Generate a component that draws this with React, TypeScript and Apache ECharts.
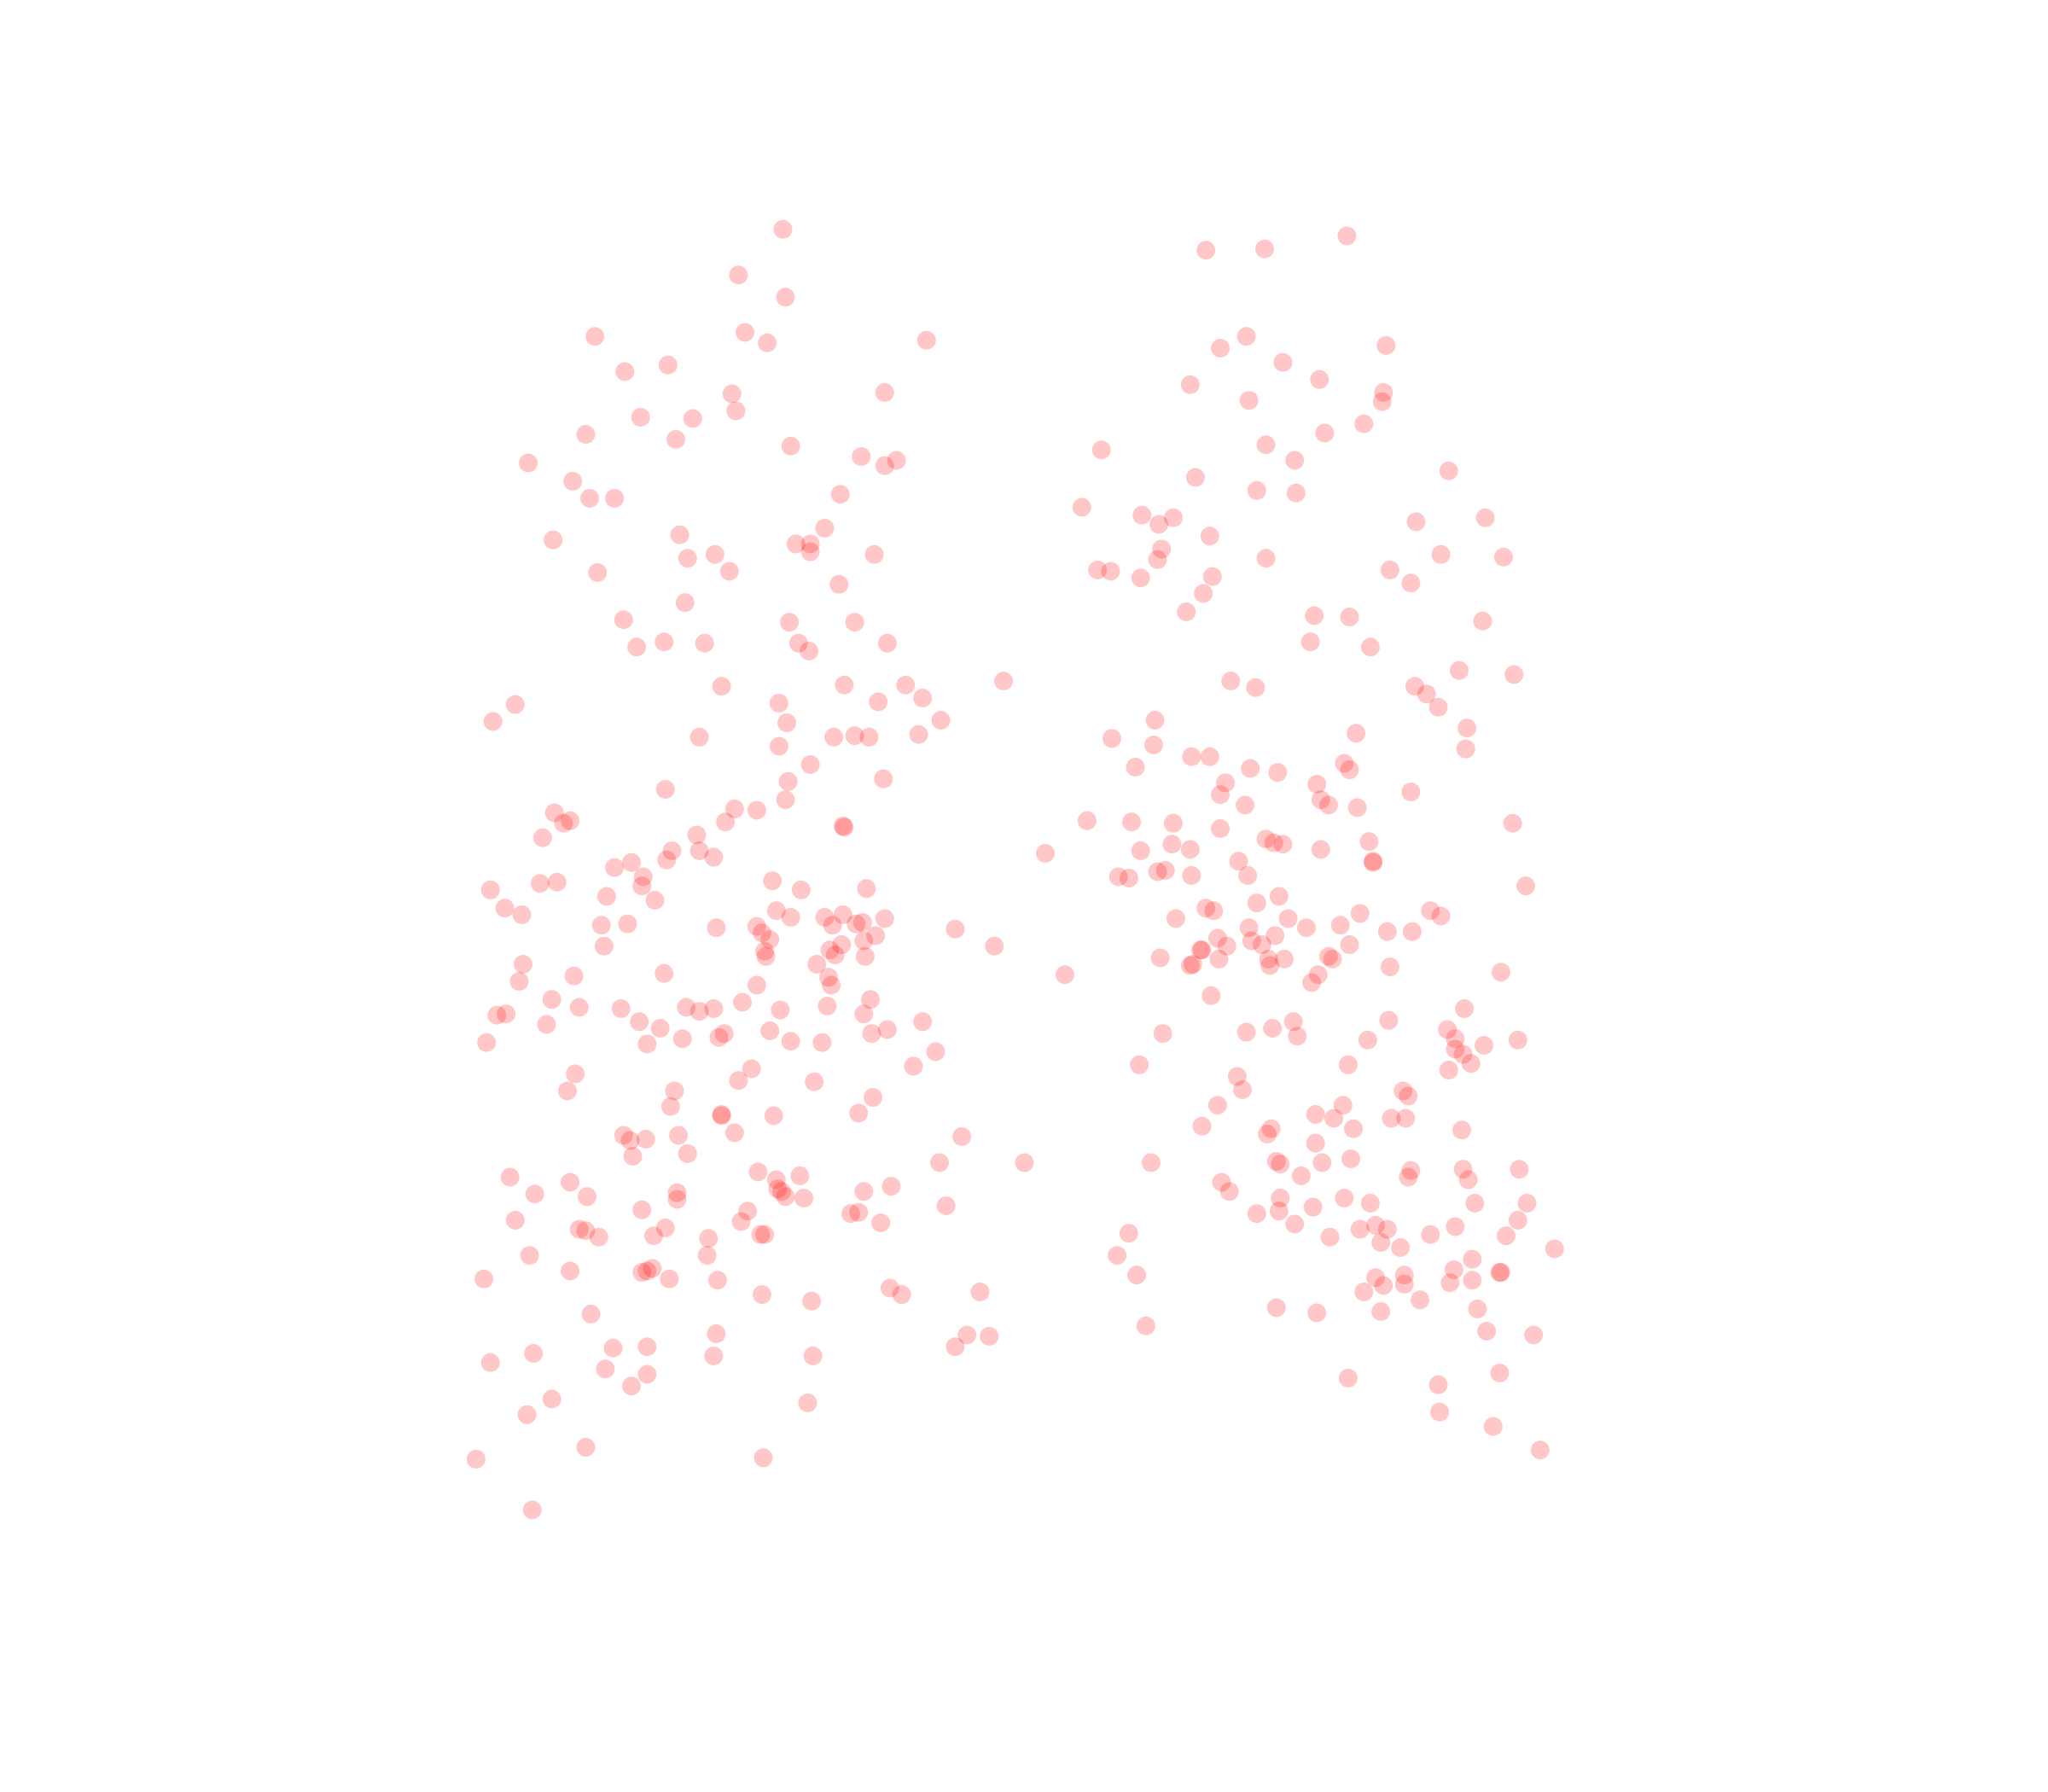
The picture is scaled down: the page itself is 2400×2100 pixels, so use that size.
import React, { useEffect, useRef } from "react";
import * as echarts from "echarts";

const AXIS_WIDTH = 1568;
const AXIS_HEIGHT = 1372;

const leftPoints: number[][] = [
[599,175],[565,210],[601,227],[455,257],[570,254],[587,262],[709,260],[478,284],[511,279],[560,301],[563,314],[677,300],[490,319],[530,320],[517,336],[448,332],[605,341],[404,354],[438,368],[451,381],[470,381],[659,349],[686,352],[677,356],[643,378],[631,404],[423,413],[520,409],[526,427],[547,424],[558,437],[609,416],[620,416],[620,422],[669,424],[457,438],[642,447],[524,461],[477,474],[604,476],[654,476],[487,495],[508,491],[539,492],[611,492],[619,498],[679,492],
[552,525],[646,524],[693,524],[706,534],[768,521],[596,538],[672,537],[394,539],[377,552],[602,553],[720,551],[535,564],[638,564],[654,563],[665,564],[703,562],[596,571],[620,585],[603,598],[676,596],[509,604],[601,612],[562,619],[579,620],[424,622],[431,630],[436,628],[555,629],[415,641],[533,639],[645,632],[646,633],[535,651],[514,651],[546,656],[510,658],[470,664],[483,660],[492,671],[413,676],[426,675],[491,678],[375,681],[464,686],[501,689],[591,674],[613,681],[663,680],[386,695],[399,700],[594,697],[605,702],[631,702],[645,700],[677,703],[460,708],[480,707],[548,710],[579,709],[583,714],[637,708],[655,707],[660,706],[670,716],[589,719],[661,720],[731,711],[462,724],[644,723],[635,727],[639,731],[585,728],[586,732],[662,732],[761,724],[400,738],[625,738],[439,747],[508,745],[397,751],[634,748],[636,754],[579,754],[815,746],
[422,765],[568,767],[380,777],[387,776],[443,771],[475,772],[525,771],[535,774],[546,772],[597,773],[633,770],[661,776],[666,765],[418,784],[489,782],[505,787],[706,782],[589,789],[679,788],[667,791],[372,798],[495,799],[522,795],[550,794],[554,791],[605,797],[629,798],[716,805],[699,816],[440,822],[575,818],[565,827],[623,828],[434,835],[516,835],[668,840],[513,847],[552,853],[552,854],[592,854],[657,852],[477,869],[482,873],[494,872],[519,869],[562,867],[736,870],[526,883],[484,885],[719,890],[784,890],[580,897],[390,901],[436,905],[594,903],[612,900],[409,914],[449,916],[518,913],[518,918],[595,910],[598,912],[601,916],[615,917],[661,912],[682,908],[491,926],[572,927],[724,923],[651,929],[657,928],[394,934],[567,935],[674,936],[443,941],[448,942],[458,947],[509,940],[500,946],[542,948],[582,945],[585,945],[405,961],[541,961],[370,979],[436,973],[491,974],[495,973],[499,971],[512,979],[549,980],[583,991],[621,996],[681,986],[690,991],[750,989],[452,1006],[548,1021],[469,1032],[495,1031],[408,1036],[740,1022],[757,1023],[731,1031],[375,1043],[546,1038],[622,1038],[463,1048],[495,1052],[483,1061],[422,1071],[618,1074],[403,1083],[448,1108],[364,1117],[584,1116],[407,1156],
];

const rightPoints: number[][] = [
[923,191],[968,190],[1031,180],[954,257],[934,266],[1061,264],[982,277],[1010,290],[911,294],[1059,300],[1058,307],[956,306],[1044,324],[1014,331],[969,340],[843,344],[991,352],[1109,360],[915,365],[962,375],[992,377],[828,388],[874,394],[887,401],[898,396],[1084,399],[1137,396],[926,410],[889,420],[886,428],[969,427],[1103,424],[1151,426],[840,436],[850,437],[873,442],[928,441],[1064,436],[1080,446],[921,454],[908,468],[1006,471],[1033,472],[1135,475],[1003,491],[1049,495],[1117,513],[1159,516],[942,521],[961,526],[1083,525],[1092,531],[1101,541],[884,551],[1123,557],[851,565],[883,570],[1038,561],[1122,573],[912,579],[926,579],[869,587],[957,588],[978,591],[1029,584],[1033,589],[938,599],[1008,600],[934,608],[1080,606],[953,616],[1011,612],[1017,616],[1039,618],[832,628],[866,629],[898,630],[934,634],[1158,630],[969,642],[975,645],[982,646],[1048,644],[897,646],[873,651],[911,650],[1011,650],[800,653],[1051,659],[1051,660],[948,659],[856,671],[864,672],[886,667],[892,666],[912,670],[955,670],[1168,678],[979,686],[923,695],[929,697],[962,691],[1095,697],[1103,701],[900,703],[986,703],[1041,699],[956,710],[1000,710],[1026,708],[1062,713],[1081,713],[932,718],[958,720],[976,716],[939,724],[966,723],[1033,723],[919,727],[920,727],[888,733],[933,734],[911,739],[913,738],[971,734],[983,734],[972,739],[1017,732],[1020,734],[1064,740],[1149,744],[1009,746],[1004,752],[927,762],
[1121,772],[990,782],[1063,781],[1108,788],[954,790],[974,787],[890,791],[993,793],[1047,796],[1114,795],[1162,796],[1136,800],[1114,803],[1120,807],[872,815],[1032,815],[1126,814],[1109,819],[947,824],[951,834],[1074,835],[1078,839],[932,846],[1028,846],[1007,853],[1021,856],[1065,856],[1076,856],[920,862],[973,864],[970,868],[1036,864],[1119,865],[1007,875],[977,889],[980,891],[1012,890],[1034,887],[881,890],[1163,895],[1080,896],[1120,895],[1078,901],[996,900],[1124,903],[935,905],[941,912],[980,917],[1029,917],[1049,921],[1129,921],[1169,921],[962,929],[979,927],[1005,924],[1162,934],[991,937],[1041,941],[1053,938],[1062,941],[1114,939],[1095,945],[1153,946],[864,944],[1018,947],[1057,951],[1072,955],[1190,956],[855,961],[1127,964],[870,976],[1113,972],[1149,974],[1148,974],[1075,976],[1053,978],[1127,980],[1110,982],[1059,984],[1075,983],[1044,989],[1087,995],[977,1001],[1008,1005],[1057,1004],[1131,1002],[877,1015],[1138,1019],[1174,1022],[1148,1051],[1032,1055],[1101,1060],[1102,1081],[1143,1092],[1179,1110],
];

export default function App() {
  const ref = useRef<HTMLDivElement>(null);
  useEffect(() => {
    document.body.style.margin = "0";
    const chart = echarts.init(ref.current!, undefined, { renderer: "svg" });
    chart.setOption({
      animation: false,
      backgroundColor: "#ffffff",
      grid: { left: 1, right: -1, top: 1, bottom: -1 },
      xAxis: { type: "value", min: 0, max: AXIS_WIDTH, show: false },
      yAxis: { type: "value", min: 0, max: AXIS_HEIGHT, inverse: true, show: false },
      series: [
        {
          type: "scatter",
          symbol: "circle",
          symbolSize: 22,
          silent: true,
          itemStyle: { color: "#ff0000", opacity: 0.22 },
          data: [...leftPoints, ...rightPoints],
        },
      ],
    });
    return () => chart.dispose();
  }, []);
  return <div ref={ref} style={{ width: 2400, height: 2100 }} />;
}
